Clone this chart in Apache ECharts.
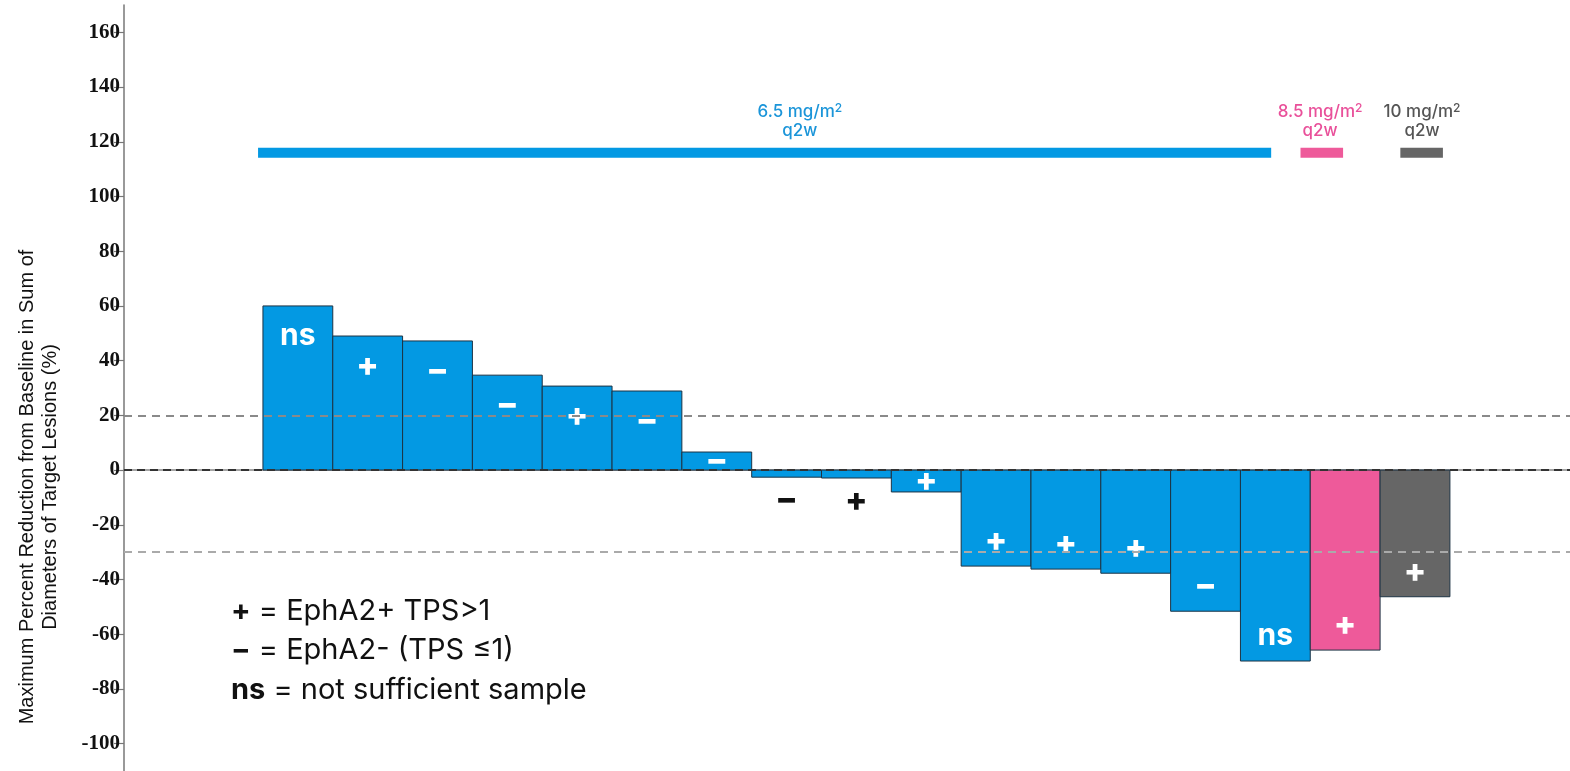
<!DOCTYPE html>
<html>
<head>
<meta charset="utf-8">
<script src="https://cdn.jsdelivr.net/npm/echarts@6/dist/echarts.min.js"></script>
<style>html,body{margin:0;padding:0;background:#fff;}#c{width:1570px;height:771px;}</style>
</head>
<body>
<div id="c"></div>
<script>
// ---- data ----
const patients = ['1','2','3','4','5','6','7','8','9','10','11','12','13','14','15','16','17'];
const values = [60.0, 49.0, 47.2, 34.7, 30.7, 28.9, 6.6, -2.6, -2.9, -8.0, -35.1, -36.2, -37.7, -51.6, -69.8, -65.8, -46.3];
const markers = ['ns','+','\u2212','\u2212','+','\u2212','\u2212','\u2212','+','+','+','+','+','\u2212','ns','+','+'];
const doseGroupOfPatient = [0,0,0,0,0,0,0,0,0,0,0,0,0,0,0,1,2];
const doseNames = ['6.5', '8.5', '10'];
const doseSchedule = 'q2w';
const doseSpanStart = [-0.57, 14.36, 15.79];
const doseSpanEnd = [13.94, 14.97, 16.40];
const doseLabelAt = [7.19, 14.64, 16.10];
const doseLevel = 116;
const yTicks = [-100,-80,-60,-40,-20,0,20,40,60,80,100,120,140,160];
const refLinesGray = [20];
const refLinesLight = [-30];
const refZero = [0];
const legendLines = [['+', ' = EphA2+ TPS>1'], ['\u2212', ' = EphA2- (TPS \u22641)'], ['ns', ' = not sufficient sample']];

// ---- styles ----
const groupColors = ['#0399E3', '#EE5A9A', '#666666'];
const groupTextColors = ['#1B95D9', '#E9509A', '#555555'];

const chart = echarts.init(document.getElementById('c'), null, {renderer: 'canvas'});

const barData = values.map((v, i) => [i, v, doseGroupOfPatient[i]]);
const doseData = doseNames.map((n, g) => [doseSpanStart[g], doseSpanEnd[g], doseLevel, g, doseLabelAt[g]]);

const option = {
  backgroundColor: '#fff',
  animation: false,
  grid: {left: 124, right: 0, top: 5, bottom: 0, containLabel: false},
  xAxis: {
    type: 'value', min: -2.49, max: 18.22, position: 'top',
    axisLine: {show: true, lineStyle: {color: '#888', width: 1.5}},
    axisTick: {show: false}, axisLabel: {show: false}, splitLine: {show: false}
  },
  yAxis: {
    type: 'value', min: -110, max: 170,
    axisLine: {show: true, onZero: false, lineStyle: {color: '#777', width: 1.5}},
    axisTick: {show: true, customValues: yTicks, length: 10, lineStyle: {color: '#777', width: 1.2}},
    axisLabel: {show: true, customValues: yTicks, margin: 4, color: '#111',
      fontFamily: 'Liberation Serif', fontWeight: 'bold', fontSize: 21},
    splitLine: {show: false}
  },
  series: [
    {
      type: 'line', data: [], z: 1, silent: true,
      markLine: {silent: true, symbol: ['none','none'], label: {show: false},
        lineStyle: {type: [8, 6], color: '#8a8a8a', width: 2},
        data: refLinesGray.map(v => ({yAxis: v}))
          .concat(refLinesLight.map(v => ({yAxis: v, lineStyle: {color: '#aaaaaa', type: [8,6], width: 2}})))}
    },
    {
      type: 'custom', z: 2, data: barData, encode: {x: 0, y: 1},
      renderItem: function (params, api) {
        const i = api.value(0), v = api.value(1), g = api.value(2);
        const p0 = api.coord([i, 0]);
        const p1 = api.coord([i, v]);
        const w = api.size([1, 0])[0];
        const x = p0[0] - w / 2;
        const yTop = Math.min(p0[1], p1[1]);
        const h = Math.abs(p1[1] - p0[1]);
        const m = markers[params.dataIndex];
        let ly, col = '#fff';
        if (h < 12) { ly = p1[1] + (v >= 0 ? -20 : 23); col = '#111'; }
        else if (h < 40) { ly = (p0[1] + p1[1]) / 2; }
        else { ly = p1[1] + (v >= 0 ? 30 : -25); }
        const isNs = m === 'ns';
        return {
          type: 'group',
          children: [
            {type: 'rect', shape: {x: x, y: yTop, width: w, height: Math.max(h, 1)},
              style: {fill: groupColors[g], stroke: '#1d3344', lineWidth: 1}},
            {type: 'text', z2: 5, style: {text: m, x: p0[0], y: ly, align: 'center', verticalAlign: 'middle',
              fill: col, fontFamily: 'Inter', fontWeight: isNs ? 700 : 800, fontSize: isNs ? 30 : 33}}
          ]
        };
      }
    },
    {
      type: 'line', data: [], z: 3, silent: true,
      markLine: {silent: true, symbol: ['none','none'], label: {show: false},
        lineStyle: {type: [8, 5], color: '#333', width: 2},
        data: refZero.map(v => ({yAxis: v}))}
    },
    {
      type: 'custom', z: 4, data: doseData, encode: {x: [0, 1], y: 2},
      renderItem: function (params, api) {
        const g = api.value(3);
        const a = api.coord([api.value(0), api.value(2)]);
        const b = api.coord([api.value(1), api.value(2)]);
        const t = api.coord([api.value(4), api.value(2)]);
        const c = groupColors[g];
        const tc = groupTextColors[g];
        return {
          type: 'group',
          children: [
            {type: 'rect', shape: {x: a[0], y: a[1] - 5, width: b[0] - a[0], height: 10}, style: {fill: c}},
            {type: 'text', style: {
              text: '{t|' + doseNames[g] + ' mg/m}{s|2}\n{t|' + doseSchedule + '}',
              x: t[0], y: a[1] - 12, align: 'center', verticalAlign: 'bottom',
              rich: {
                t: {fill: tc, fontFamily: 'Inter', fontWeight: 500, fontSize: 17, lineHeight: 19, align: 'center'},
                s: {fill: tc, fontFamily: 'Inter', fontWeight: 500, fontSize: 12, lineHeight: 10, verticalAlign: 'top'}
              }
            }}
          ]
        };
      }
    }
  ],
  graphic: [
    {type: 'text', rotation: Math.PI / 2, x: 39, y: 487,
      style: {text: 'Maximum Percent Reduction from Baseline in Sum of\nDiameters of Target Lesions (%)',
        fill: '#111', fontFamily: 'Liberation Sans', fontSize: 20, lineHeight: 23, align: 'center', verticalAlign: 'middle'}}
  ].concat(legendLines.map((l, k) => ({
    type: 'text', x: 231, y: 611 + k * 39.5,
    style: {text: '{b|' + l[0] + '}{r|' + l[1] + '}', verticalAlign: 'middle',
      rich: {
        b: {fill: '#111', fontFamily: 'Inter', fontWeight: 'bold', fontSize: 29},
        r: {fill: '#111', fontFamily: 'Inter', fontWeight: 400, fontSize: 29}
      }}
  })))
};
chart.setOption(option);
</script>
</body>
</html>
